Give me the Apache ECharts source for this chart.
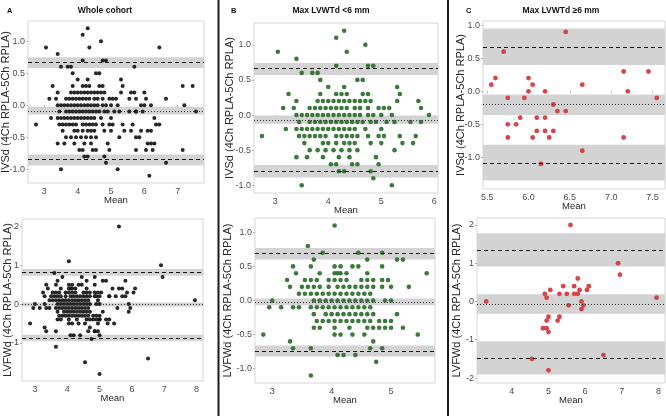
<!DOCTYPE html>
<html><head><meta charset="utf-8">
<script src="https://cdn.jsdelivr.net/npm/echarts@6/dist/echarts.min.js"></script>
<style>html,body{margin:0;padding:0;background:#fff}#c{width:666px;height:416px}</style>
</head><body><div id="c"></div>
<script>
// ---------------- DATA ----------------
// IVSd difference vs mean, Max LVWTd <6 mm
const ivsdLow = [
[4.3,1.2],[4.15,1.1],[4.7,1.0],[3.05,0.9],[4.35,0.9],[3.4,0.8],
[4.15,0.7],[4.75,0.7],[4.85,0.7],
[3.5,0.6],[3.7,0.6],[3.8,0.6],
[3.85,0.5],[4.55,0.5],[4.65,0.5],
[4.0,0.4],[4.3,0.4],[5.3,0.4],
[3.25,0.3],[3.85,0.3],[4.15,0.3],[4.25,0.3],[4.35,0.3],[4.65,0.3],[4.75,0.3],[5.35,0.3],
[3.4,0.2],[3.8,0.2],[3.9,0.2],[4.0,0.2],[4.1,0.2],[4.2,0.2],[4.3,0.2],[4.4,0.2],[4.5,0.2],[4.6,0.2],[4.7,0.2],[4.8,0.2],[5.3,0.2],[5.7,0.2],
[3.15,0.1],[3.35,0.1],[3.65,0.1],[3.75,0.1],[3.85,0.1],[3.95,0.1],[4.05,0.1],[4.15,0.1],[4.25,0.1],[4.35,0.1],[4.5,0.1],[4.6,0.1],[4.75,0.1],[4.95,0.1],[5.05,0.1],[5.15,0.1],[5.75,0.1],
[3.4,0],[3.5,0],[3.6,0],[3.7,0],[3.8,0],[3.9,0],[4.0,0],[4.1,0],[4.2,0],[4.3,0],[4.4,0],[4.5,0],[4.6,0],[4.75,0],[4.85,0],[5.0,0],[5.2,0],[5.9,0],
[3.45,-0.1],[3.65,-0.1],[3.75,-0.1],[3.85,-0.1],[3.95,-0.1],[4.05,-0.1],[4.15,-0.1],[4.25,-0.1],[4.35,-0.1],[4.45,-0.1],[4.55,-0.1],[4.65,-0.1],[4.8,-0.1],[4.9,-0.1],[5.1,-0.1],[5.25,-0.1],[5.55,-0.1],[5.75,-0.1],
[3.2,-0.2],[3.4,-0.2],[3.5,-0.2],[3.6,-0.2],[3.7,-0.2],[3.8,-0.2],[3.9,-0.2],[4.0,-0.2],[4.1,-0.2],[4.2,-0.2],[4.3,-0.2],[4.4,-0.2],[4.5,-0.2],[4.7,-0.2],[5.0,-0.2],
[2.75,-0.3],[3.45,-0.3],[3.55,-0.3],[3.65,-0.3],[3.75,-0.3],[3.85,-0.3],[3.95,-0.3],[4.15,-0.3],[4.25,-0.3],[4.35,-0.3],[4.45,-0.3],[4.55,-0.3],[4.75,-0.3],[4.95,-0.3],[5.05,-0.3],[5.35,-0.3],[5.65,-0.3],
[3.55,-0.4],[3.9,-0.4],[4.0,-0.4],[4.15,-0.4],[4.3,-0.4],[4.4,-0.4],[4.5,-0.4],[4.8,-0.4],[5.0,-0.4],[5.4,-0.4],[5.6,-0.4],
[3.65,-0.5],[3.8,-0.5],[3.95,-0.5],[4.1,-0.5],[4.25,-0.5],[4.4,-0.5],[4.55,-0.5],[5.25,-0.5],
[3.4,-0.6],[3.6,-0.6],[3.9,-0.6],[4.2,-0.6],[4.4,-0.6],[4.9,-0.6],
[4.05,-0.7],[4.15,-0.7],[4.45,-0.7],[4.55,-0.7],[4.95,-0.7],
[4.2,-0.8],[4.3,-0.8],[4.8,-0.8],
[4.85,-0.9],
[3.5,-1.0],[5.2,-1.0]
];
// IVSd, Max LVWTd >=6 mm
const ivsdHigh = [
[6.45,0.9],[5.7,0.6],[5.6,0.2],[6.0,0.2],[7.15,0.3],[7.45,0.3],
[5.55,0.1],[6.05,0.1],[6.65,0.1],[6.0,0.0],[6.2,0.0],[7.2,0.0],
[5.75,-0.1],[5.95,-0.1],[7.55,-0.1],[6.3,-0.2],[6.35,-0.3],[6.45,-0.3],
[5.9,-0.4],[6.1,-0.4],[6.2,-0.4],[5.75,-0.5],[5.85,-0.5],
[6.1,-0.6],[6.2,-0.6],[6.3,-0.6],[5.75,-0.7],[6.05,-0.7],[6.25,-0.7],[7.15,-0.7],
[6.65,-0.9],[6.15,-1.1]
];
// LVFWd, Max LVWTd <6 mm
const lvfwdLow = [
[4.05,1.1],[3.6,0.8],
[3.85,0.7],[4.45,0.7],[4.85,0.7],
[3.7,0.6],[4.6,0.6],[5.1,0.6],[5.2,0.6],
[3.35,0.5],[3.65,0.5],[4.05,0.5],[4.15,0.5],[4.35,0.5],[4.45,0.5],[4.85,0.5],
[3.4,0.4],[3.8,0.4],[4.05,0.4],[4.1,0.4],[4.15,0.4],[4.25,0.4],[4.6,0.4],[5.6,0.4],
[3.25,0.3],[3.55,0.3],[3.65,0.3],[3.75,0.3],[3.95,0.3],[4.05,0.3],[4.15,0.3],[4.25,0.3],[4.5,0.3],[4.6,0.3],[4.7,0.3],[4.85,0.3],[4.95,0.3],
[3.3,0.2],[3.5,0.2],[3.6,0.2],[3.7,0.2],[3.8,0.2],[3.95,0.2],[4.1,0.2],[4.2,0.2],[4.3,0.2],[4.4,0.2],[4.5,0.2],[4.6,0.2],[4.7,0.2],[4.85,0.2],[5.0,0.2],[5.3,0.2],
[3.45,0.1],[3.55,0.1],[3.65,0.1],[3.75,0.1],[3.85,0.1],[3.95,0.1],[4.05,0.1],[4.15,0.1],[4.25,0.1],[4.35,0.1],[4.45,0.1],[4.55,0.1],[4.65,0.1],
[3.0,0],[3.7,0],[3.8,0],[3.9,0],[4.0,0],[4.1,0],[4.2,0],[4.3,0],[4.4,0],[4.5,0],[4.6,0],[4.7,0],[4.9,0],[5.0,0],
[2.95,-0.1],[3.15,-0.1],[3.35,-0.1],[3.45,-0.1],[3.65,-0.1],[3.75,-0.1],[3.85,-0.1],[3.95,-0.1],[4.05,-0.1],[4.15,-0.1],[4.25,-0.1],[4.35,-0.1],[4.45,-0.1],[4.55,-0.1],[4.65,-0.1],
[3.7,-0.2],[3.9,-0.2],[4.0,-0.2],[4.1,-0.2],[4.2,-0.2],[4.3,-0.2],[4.4,-0.2],[4.5,-0.2],[4.6,-0.2],[4.7,-0.2],[5.1,-0.2],
[3.75,-0.3],[3.85,-0.3],[3.95,-0.3],[4.05,-0.3],[4.15,-0.3],[4.25,-0.3],[4.35,-0.3],[4.45,-0.3],[4.55,-0.3],[4.65,-0.3],[4.8,-0.3],[4.9,-0.3],[5.0,-0.3],
[3.7,-0.4],[3.8,-0.4],[4.05,-0.4],[4.3,-0.4],[4.6,-0.4],[4.7,-0.4],[4.8,-0.4],[4.9,-0.4],[5.0,-0.4],[5.2,-0.4],
[2.85,-0.5],[4.05,-0.5],[4.15,-0.5],[4.35,-0.5],[4.55,-0.5],[5.45,-0.5],
[3.3,-0.6],[4.7,-0.6],
[3.35,-0.7],[3.65,-0.7],[4.65,-0.7],[4.85,-0.7],
[4.1,-0.8],[4.2,-0.8],[4.4,-0.8],
[4.75,-0.9],
[3.65,-1.1]
];
// LVFWd, Max LVWTd >=6 mm
const lvfwdHigh = [
[5.6,2.0],[6.9,1.0],[6.95,0.7],[5.8,0.6],[5.4,0.4],[5.7,0.4],[6.1,0.4],
[5.05,0.3],[5.85,0.3],[6.05,0.3],[4.9,0.2],[5.3,0.2],[5.5,0.2],[5.7,0.2],[5.8,0.2],
[4.95,0.1],[7.95,0.1],[3.3,0.0],[5.9,0.0],[5.55,-0.1],[5.95,-0.1],[5.9,-0.2],
[5.0,-0.4],[5.3,-0.4],[4.95,-0.5],[5.25,-0.5],[4.85,-0.7],[4.95,-0.7],[5.0,-0.8],
[6.5,-1.4],[4.55,-1.5],[5.0,-1.8]
];
// Whole cohort = both subgroups
const ivsdAll = ivsdLow.concat(ivsdHigh);
const lvfwdAll = lvfwdLow.concat(lvfwdHigh);

// Limits of agreement & bias: [CI low, estimate, CI high] for lower LoA, bias, upper LoA
const loaIvsdAll   = [[-0.94,-0.854,-0.77],[-0.145,-0.085,-0.025],[0.58,0.666,0.75]];
const loaIvsdLow   = [[-0.89,-0.80,-0.71],[-0.125,-0.068,-0.005],[0.57,0.655,0.74]];
const loaIvsdHigh  = [[-1.35,-1.09,-0.81],[-0.36,-0.205,-0.05],[0.40,0.67,0.95]];
const loaLvfwdAll  = [[-0.96,-0.875,-0.79],[-0.06,-0.01,0.04],[0.73,0.815,0.90]];
const loaLvfwdLow  = [[-0.82,-0.74,-0.66],[-0.07,-0.02,0.03],[0.60,0.685,0.77]];
const loaLvfwdHigh = [[-1.91,-1.48,-1.04],[-0.32,-0.06,0.19],[0.91,1.35,1.78]];

// Tick labels
const ticksXA1 = [3,4,5,6,7];
const ticksXB1 = [3,4,5,6];
const ticksXC1 = [5.5,6.0,6.5,7.0,7.5];
const ticksXA2 = [3,4,5,6,7,8];
const ticksXB2 = [3,4,5];
const ticksXC2 = [4,5,6,7,8];
const ticksYTop = [-1.0,-0.5,0.0,0.5,1.0];
const ticksYA2 = [-1,0,1,2];
const ticksYB2 = [-1.0,-0.5,0.0,0.5,1.0];
const ticksYC2 = [-2,-1,0,1,2];

const panelTitles = ['Whole cohort','Max LVWTd <6 mm','Max LVWTd \u22656 mm'];
const panelLetters = ['A','B','C'];
const yTitleIvsd = 'IVSd (4Ch RPLA-5Ch RPLA)';
const yTitleLvfwd = 'LVFWd (4Ch RPLA-5Ch RPLA)';
const xTitle = 'Mean';

// ---------------- LAYOUT ----------------
const FONT = 'Liberation Sans, Arial, sans-serif';
const panels = [
  {data:ivsdAll,  loa:loaIvsdAll,  grid:{left:28,top:21,width:176,height:162}, x:[2.51,7.79], y:[-1.215,1.315], tx:ticksXA1, tdx:0, ty:ticksYTop, tdy:1, yname:yTitleIvsd, gap:16.5, color:'#151515', size:4.0},
  {data:ivsdLow,  loa:loaIvsdLow,  grid:{left:254,top:23,width:184,height:170}, x:[2.6,6.07], y:[-1.11,1.31], tx:ticksXB1, tdx:0, ty:ticksYTop, tdy:1, yname:yTitleIvsd, gap:19, color:'#2c6c2c', size:4.6},
  {data:ivsdHigh, loa:loaIvsdHigh, grid:{left:483,top:21,width:182,height:168}, x:[5.45,7.65], y:[-1.48,1.065], tx:ticksXC1, tdx:1, ty:ticksYTop, tdy:1, yname:yTitleIvsd, gap:16.5, color:'#d4343a', size:4.8},
  {data:lvfwdAll, loa:loaLvfwdAll, grid:{left:22,top:219,width:181,height:162}, x:[2.6,8.2], y:[-1.98,2.19], tx:ticksXA2, tdx:0, ty:ticksYA2, tdy:0, yname:yTitleLvfwd, gap:9, color:'#151515', size:4.0},
  {data:lvfwdLow, loa:loaLvfwdLow, grid:{left:255,top:218,width:180,height:165}, x:[2.71,5.74], y:[-1.21,1.21], tx:ticksXB2, tdx:0, ty:ticksYB2, tdy:1, yname:yTitleLvfwd, gap:21.5, color:'#2c6c2c', size:4.6},
  {data:lvfwdHigh,loa:loaLvfwdHigh,grid:{left:477,top:218,width:188,height:165}, x:[3.05,8.18], y:[-2.13,2.18], tx:ticksXC2, tdx:0, ty:ticksYC2, tdy:0, yname:yTitleLvfwd, gap:14.5, color:'#d4343a', size:4.8}
];

const grids = [], xAxes = [], yAxes = [], series = [];
panels.forEach((p, i) => {
  grids.push(Object.assign({show:true, borderColor:'#d6d6d6', borderWidth:1, backgroundColor:'#fff', containLabel:false, outerBoundsMode:'none'}, p.grid));
  const lab = (dec) => ({color:'#4d4d4d', fontSize:9, fontFamily:FONT, formatter: v => Number(v).toFixed(dec)});
  xAxes.push({
    type:'value', gridIndex:i, min:p.x[0], max:p.x[1], scale:true,
    axisLine:{show:false}, splitLine:{show:false},
    axisTick:{show:true, length:2, lineStyle:{color:'#b3b3b3'}, customValues:p.tx},
    axisLabel:Object.assign(lab(p.tdx), {margin:4, customValues:p.tx}),
    name:xTitle, nameLocation:'middle', nameGap:12, nameMoveOverlap:false,
    nameTextStyle:{color:'#262626', fontSize:9.5, fontFamily:FONT}
  });
  yAxes.push({
    type:'value', gridIndex:i, min:p.y[0], max:p.y[1], scale:true,
    axisLine:{show:false}, splitLine:{show:false},
    axisTick:{show:true, length:2, lineStyle:{color:'#b3b3b3'}, customValues:p.ty},
    axisLabel:Object.assign(lab(p.tdy), {margin:3, customValues:p.ty}),
    name:p.yname, nameLocation:'middle', nameGap:p.gap, nameMoveOverlap:false,
    nameTextStyle:{color:'#262626', fontSize:11, fontFamily:FONT}
  });
  series.push({
    type:'scatter', xAxisIndex:i, yAxisIndex:i, data:p.data,
    symbolSize:p.size, itemStyle:{color:p.color, opacity:0.92}, silent:true,
    markArea:{silent:true, itemStyle:{color:'#d3d3d3', opacity:1}, label:{show:false},
      data:p.loa.map(b => [{yAxis:b[0]},{yAxis:b[2]}])},
    markLine:{silent:true, symbol:'none', label:{show:false}, animation:false,
      data:p.loa.map((b, k) => ({yAxis:b[1], lineStyle:{color: k===1 ? '#333' : '#111', width:1, type: k===1 ? [1,2] : [4,3]}}))}
  });
});

const titles = [];
const titleCenters = [100, 326, 556];
const letterLefts = [2, 226, 461];
panelTitles.forEach((t, i) => {
  titles.push({text:t, left:titleCenters[i], top:1, textAlign:'center',
    textStyle:{fontSize:8.5, fontWeight:'bold', color:'#111', fontFamily:FONT}});
  titles.push({text:panelLetters[i], left:letterLefts[i], top:2,
    textStyle:{fontSize:7.5, fontWeight:'bold', color:'#111', fontFamily:FONT}});
});

const chart = echarts.init(document.getElementById('c'), null, {renderer:'canvas'});
chart.setOption({
  backgroundColor:'#fff', animation:false,
  title:titles, grid:grids, xAxis:xAxes, yAxis:yAxes, series:series,
  graphic:[
    {type:'line', shape:{x1:218.5,y1:0,x2:218.5,y2:416}, style:{stroke:'#1a1a1a', lineWidth:2}, silent:true},
    {type:'line', shape:{x1:448,y1:0,x2:448,y2:416}, style:{stroke:'#1a1a1a', lineWidth:2}, silent:true}
  ]
});
</script></body></html>
